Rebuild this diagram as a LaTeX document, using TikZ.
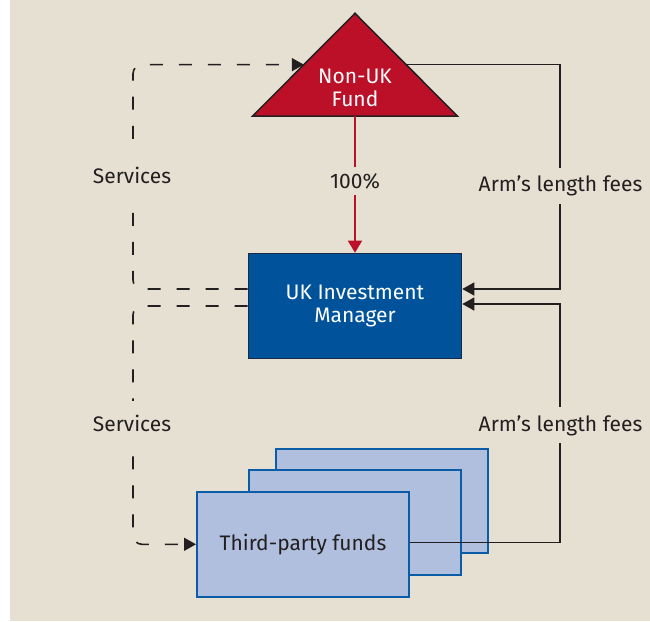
\documentclass[tikz,border=0pt]{standalone}
\usepackage{fontspec}
\setmainfont{Fira Sans}
\usetikzlibrary{arrows.meta,calc}

\definecolor{paper}{HTML}{E5E0D1}
\definecolor{fundred}{HTML}{BB1028}
\definecolor{ukblue}{HTML}{00539B}
\definecolor{ukedge}{HTML}{1B2A44}
\definecolor{tpfill}{HTML}{B0BFDD}
\definecolor{tpedge}{HTML}{0B5CA6}
\definecolor{ink}{HTML}{231F20}

\begin{document}
\begin{tikzpicture}[x=1pt, y=-1pt,
  every node/.style={font=\fontsize{21}{23.5}\selectfont},
  tip/.style={-{Triangle[length=12pt,width=13pt]}},
  svc/.style={draw=ink, line width=1.6pt, dash pattern=on 13pt off 16pt, tip},
  fee/.style={draw=ink, line width=1.5pt, tip},
  owns/.style={draw=fundred, line width=1.6pt, -{Triangle[length=12pt,width=14pt]}},
  gaplabel/.style={fill=paper, text=ink, inner xsep=3pt, anchor=base},
  ukbox/.style={draw=ukedge, fill=ukblue, line width=1.6pt, text=white, align=center,
    minimum width=213pt, minimum height=105pt, inner sep=0pt},
  tpbox/.style={draw=tpedge, fill=tpfill, line width=2pt,
    minimum width=212pt, minimum height=104.5pt, inner sep=0pt},
]
\useasboundingbox (0,0) rectangle (650,621);
\fill[paper] (10,0) rectangle (650,621);

% Non-UK fund triangle
\coordinate (fapex)  at (355,13.3);
\coordinate (fleft)  at (252.7,116);
\coordinate (fright) at (457.3,116);
\filldraw[fill=fundred, draw=ink, line width=1.5pt] (fapex) -- (fleft) -- (fright) -- cycle;
\node[text=white, align=center] (fund) at (355,88) {Non-UK\\Fund};
\coordinate (fbase) at ($(fleft)!0.5!(fright)$);
\coordinate (fin)   at ($(fleft)!0.5!(fapex)$);
\coordinate (fout)  at ($(fright)!0.5!(fapex)$);

% UK investment manager
\node[ukbox] (uk) at (355,306) {UK Investment\\Manager};

% stack of third-party funds
\node[tpbox] (tp3) at (381.6,501) {};
\node[tpbox] (tp2) at (355.4,522.3) {};
\node[tpbox, text=ink] (tp1) at (303,544.3) {Third-party funds};

% helper points
\coordinate (svcx) at (133,0);
\coordinate (feex) at (560,0);
\coordinate (ukin1) at ([yshift=17pt]uk.east);
\coordinate (ukin2) at ([yshift=2pt]uk.east);
\coordinate (ukout1) at ([yshift=17pt]uk.west);
\coordinate (tpout) at ([yshift=2pt]tp1.east);

% ownership
\draw[owns] (fbase) -- (uk.north);

% fees
\draw[fee] (fout) -| (feex |- ukin1) -- (ukin1);
\draw[fee] (tpout) -| (feex |- ukin2) -- (ukin2);

% services
\draw[svc, rounded corners=9pt] (ukout1) -| (svcx |- fin) -- (fin);
\draw[svc, rounded corners=9pt] (uk.west) -| (svcx |- tp1.west) -- (tp1.west);

% labels on the connectors
\node[gaplabel, inner ysep=13.5pt] (svc1) at (132,183.3) {Services};
\node[gaplabel, inner ysep=13.5pt] (svc2) at (132,431) {Services};
\node[gaplabel, inner ysep=8pt] (fee1) at (560.5,191.5) {Arm’s length fees};
\node[gaplabel, inner ysep=8pt] (fee2) at (560.5,431) {Arm’s length fees};
\node[gaplabel, inner ysep=6pt] (pct) at (355,188.3) {100\%};
\end{tikzpicture}
\end{document}
